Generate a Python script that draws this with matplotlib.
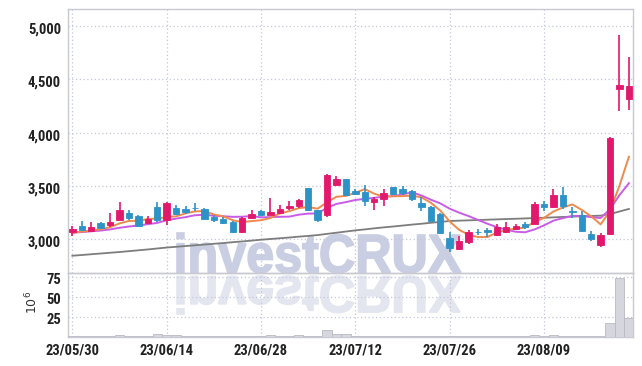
import matplotlib
matplotlib.use("Agg")
import matplotlib.pyplot as plt
import numpy as np
import os
from matplotlib import font_manager
from matplotlib.textpath import TextPath
from matplotlib.font_manager import FontProperties
from matplotlib.patches import PathPatch
from matplotlib.transforms import Affine2D, ScaledTranslation
from matplotlib.ticker import FuncFormatter, FixedLocator

# ---------------- data ----------------
dates = ["23/05/30", "23/05/31", "23/06/01", "23/06/02", "23/06/05", "23/06/07", "23/06/08",
         "23/06/09", "23/06/12", "23/06/13", "23/06/14", "23/06/15", "23/06/16", "23/06/19",
         "23/06/20", "23/06/21", "23/06/22", "23/06/23", "23/06/26", "23/06/27", "23/06/28",
         "23/06/29", "23/06/30", "23/07/03", "23/07/04", "23/07/05", "23/07/06", "23/07/07",
         "23/07/10", "23/07/11", "23/07/12", "23/07/13", "23/07/14", "23/07/17", "23/07/18",
         "23/07/19", "23/07/20", "23/07/21", "23/07/24", "23/07/25", "23/07/26", "23/07/27",
         "23/07/28", "23/07/31", "23/08/01", "23/08/02", "23/08/03", "23/08/04", "23/08/07",
         "23/08/08", "23/08/09", "23/08/10", "23/08/11", "23/08/14", "23/08/16", "23/08/17",
         "23/08/18", "23/08/21", "23/08/22", "23/08/23"]

opens = [3073, 3126, 3079, 3155, 3130, 3183, 3250, 3221, 3152, 3303,
         3177, 3294, 3284, 3297, 3284, 3205, 3193, 3164, 3073, 3196,
         3268, 3231, 3246, 3290, 3310, 3477, 3275, 3228, 3509, 3562,
         3449, 3442, 3348, 3379, 3487, 3468, 3449, 3341, 3306, 3237,
         3009, 2905, 2972, 3073, 3088, 3038, 3070, 3095, 3145, 3145,
         3335, 3303, 3420, 3265, 3231, 3047, 2946, 3053, 4413, 4319]
highs = [3123, 3174, 3164, 3158, 3246, 3351, 3275, 3225, 3215, 3351,
         3350, 3325, 3309, 3341, 3294, 3230, 3205, 3174, 3209, 3275,
         3278, 3389, 3325, 3357, 3379, 3484, 3275, 3610, 3594, 3565,
         3474, 3506, 3395, 3468, 3493, 3500, 3461, 3395, 3310, 3246,
         3073, 3032, 3085, 3098, 3104, 3145, 3161, 3145, 3167, 3351,
         3357, 3468, 3493, 3300, 3262, 3079, 3063, 3955, 4916, 4707]
lows = [3032, 3085, 3073, 3100, 3114, 3180, 3177, 3120, 3145, 3158,
        3133, 3230, 3240, 3262, 3190, 3158, 3148, 3063, 3057, 3190,
        3215, 3224, 3240, 3278, 3294, 3262, 3167, 3205, 3500, 3410,
        3414, 3310, 3278, 3316, 3417, 3420, 3357, 3262, 3170, 3051,
        2883, 2899, 2959, 3041, 3019, 3032, 3057, 3088, 3101, 3139,
        3262, 3291, 3284, 3199, 3073, 2987, 2924, 3043, 4203, 4213]
closes = [3098, 3088, 3117, 3107, 3158, 3275, 3202, 3126, 3193, 3177,
          3344, 3240, 3259, 3290, 3193, 3183, 3155, 3073, 3202, 3240,
          3224, 3259, 3287, 3316, 3373, 3278, 3180, 3600, 3562, 3414,
          3423, 3357, 3382, 3430, 3427, 3430, 3382, 3300, 3174, 3063,
          2921, 2987, 3070, 3066, 3066, 3120, 3120, 3126, 3120, 3335,
          3303, 3420, 3316, 3259, 3082, 3003, 3038, 3950, 4447, 4438]
volumes = [0.6, 0.8, 0.6, 0.9, 1.5, 1.8, 0.8, 0.6, 0.9, 3.0,
           2.2, 2.0, 0.8, 0.7, 0.8, 0.6, 0.5, 0.7, 0.8, 0.6,
           0.7, 1.8, 0.9, 1.2, 2.0, 1.5, 1.0, 8.5, 4.0, 3.0,
           1.5, 1.2, 1.0, 1.0, 0.9, 0.7, 0.7, 0.8, 0.8, 1.0,
           1.0, 0.8, 0.8, 0.5, 0.5, 0.6, 0.5, 0.5, 0.5, 1.8,
           0.8, 1.8, 1.4, 0.8, 1.2, 0.7, 0.9, 17.0, 73.0, 24.0]  # x 10^6
ma5 = [3062, 3072, 3082, 3094, 3114, 3149, 3172, 3174, 3191, 3195,
       3208, 3216, 3243, 3262, 3265, 3233, 3216, 3179, 3161, 3171,
       3179, 3200, 3242, 3265, 3292, 3303, 3287, 3349, 3399, 3407,
       3436, 3471, 3428, 3401, 3404, 3405, 3410, 3394, 3343, 3270,
       3168, 3089, 3043, 3021, 3022, 3062, 3088, 3100, 3110, 3164,
       3201, 3261, 3299, 3327, 3276, 3216, 3140, 3266, 3504, 3775]
ma10 = [3062, 3068, 3075, 3082, 3093, 3108, 3120, 3130, 3142, 3154,
        3179, 3194, 3208, 3226, 3230, 3221, 3216, 3211, 3212, 3218,
        3206, 3208, 3211, 3213, 3231, 3241, 3243, 3296, 3332, 3349,
        3369, 3379, 3389, 3400, 3405, 3421, 3441, 3411, 3372, 3337,
        3287, 3250, 3218, 3182, 3146, 3115, 3089, 3071, 3066, 3093,
        3131, 3175, 3199, 3219, 3220, 3208, 3200, 3283, 3415, 3526]
ma60 = [2846, 2853, 2860, 2867, 2874, 2881, 2889, 2897, 2905, 2914,
        2923, 2930, 2937, 2944, 2951, 2958, 2965, 2973, 2980, 2988,
        2996, 3003, 3010, 3017, 3025, 3032, 3040, 3051, 3062, 3073,
        3084, 3093, 3103, 3112, 3120, 3129, 3138, 3146, 3155, 3163,
        3172, 3175, 3178, 3181, 3184, 3187, 3190, 3193, 3196, 3199,
        3202, 3206, 3210, 3213, 3216, 3219, 3222, 3237, 3261, 3285]
tick_positions = [0, 10, 20, 30, 40, 50]
price_ticks = [3000, 3500, 4000, 4500, 5000]
volume_ticks = [25, 50, 75]

# ---------------- fonts ----------------
def find_narrow_bold():
    prefs = ["LiberationSansNarrow-Bold", "RobotoCondensed-Bold", "RobotoCondensed-Medium",
             "DejaVuSansCondensed-Bold", "LiberationSansNarrow-Regular", "DejaVuSansCondensed",
             "RobotoCondensed-Regular"]
    files = {}
    for f in font_manager.fontManager.ttflist:
        files[os.path.splitext(os.path.basename(f.fname))[0]] = f.fname
    for p in prefs:
        for k, v in files.items():
            if k.replace(" ", "").lower() == p.lower():
                return FontProperties(fname=v), k
    for k, v in files.items():
        kl = k.lower()
        if ("condensed" in kl or "narrow" in kl) and "bold" in kl and "italic" not in kl \
                and "oblique" not in kl and "semi" not in kl and "extra" not in kl:
            return FontProperties(fname=v), k
    return FontProperties(family="Liberation Sans", weight="bold"), ""

tick_fp, tick_name = find_narrow_bold()
if tick_name.lower().startswith("liberationsansnarrow") or "robotocondensed" in tick_name.lower():
    tick_size = 10.5
elif "condensed" in tick_name.lower():
    tick_size = 9
else:
    tick_size = 8.5

UP = "#e2186c"
DOWN = "#2d93c7"
GRID = "#c3c7da"
SPINE = "#c9c9d2"

fig = plt.figure(figsize=(6.42, 3.66), dpi=100)
W, H = 642, 366
ax = fig.add_axes([68 / W, 1 - 272.7 / H, (632.7 - 68) / W, (272.7 - 9.3) / H])
axv = fig.add_axes([68 / W, 1 - 336.7 / H, (632.7 - 68) / W, (336.7 - 272.7) / H], sharex=ax)
for a in (ax, axv):
    a.set_facecolor("none")

x = np.arange(len(dates))
o = np.array(opens, float)
c = np.array(closes, float)
hi = np.array(highs, float)
lo = np.array(lows, float)
up = c >= o
cols = np.where(up, UP, DOWN)

# watermark (behind axes content)
fp = FontProperties(family="Liberation Sans", weight="bold")
tp = TextPath((0, 0), "investCRUX", size=1, prop=fp)
bb = tp.get_extents()
x0p, x1p = 177, 461
top_p, bot_p = 233, 273
sx = (x1p - x0p) / bb.width
sy = (bot_p - top_p) / bb.height
tr_main = Affine2D().translate(-bb.x0, -bb.y0).scale(sx, sy).translate(x0p, H - bot_p)
fig.add_artist(PathPatch(tp, transform=tr_main, facecolor="#c9cee3", edgecolor="#c9cee3",
                         linewidth=1.2, zorder=-5))
r_top, r_bot = 276, 314
sy2 = (r_bot - r_top) / bb.height
tr_ref = Affine2D().translate(-bb.x0, -bb.y0).scale(sx, -sy2).translate(x0p, H - r_top)
fig.add_artist(PathPatch(tp, transform=tr_ref, facecolor="#e4e6ef", edgecolor="#e4e6ef",
                         linewidth=1.2, zorder=-5))

# MA lines
ax.plot(x, ma60, color="#7d7d7d", lw=1.3, zorder=2)
ax.plot(x, ma10, color="#c95ce6", lw=1.4, zorder=2)
ax.plot(x, ma5, color="#ef8a4e", lw=1.4, zorder=2)

# candles
ax.vlines(x, lo, hi, colors=cols, lw=1.2, zorder=3)
body_h = np.where(np.abs(c - o) < 4, 4, np.abs(c - o))
ax.bar(x, body_h, bottom=np.minimum(o, c), width=0.68, color=cols, edgecolor=cols,
       linewidth=0.6, zorder=4)

# volume
axv.bar(x, volumes, width=1.0, color="#d6d7de", edgecolor="#b9bac4", linewidth=0.6, zorder=3)

# axes limits
ax.set_xlim(-0.46, 59.4)
ax.set_ylim(2687, 5157)
axv.set_ylim(0, 80)

# grids & ticks
for a in (ax, axv):
    a.grid(True, color=GRID, linestyle=(0, (1, 2)), linewidth=0.9)
    a.set_axisbelow(True)
    for s in a.spines.values():
        s.set_color(SPINE)
        s.set_linewidth(1.0)
    a.tick_params(length=0, colors="#222222")

ax.yaxis.set_major_locator(FixedLocator(price_ticks))
ax.yaxis.set_major_formatter(FuncFormatter(lambda v, p: f"{v:,.0f}"))
axv.yaxis.set_major_locator(FixedLocator(volume_ticks))
axv.set_yticklabels([str(v) for v in volume_ticks])
axv.xaxis.set_major_locator(FixedLocator(tick_positions))
axv.set_xticklabels([dates[i] for i in tick_positions])
ax.tick_params(labelbottom=False)

ax.tick_params(axis="y", pad=5)
axv.tick_params(axis="y", pad=5)
axv.tick_params(axis="x", pad=5)
shift = ScaledTranslation(0, -1.5 / 72, fig.dpi_scale_trans)
for lab in ax.get_yticklabels() + axv.get_yticklabels():
    lab.set_transform(lab.get_transform() + shift)
for lab in ax.get_yticklabels() + axv.get_yticklabels() + axv.get_xticklabels():
    lab.set_fontproperties(tick_fp)
    lab.set_fontsize(tick_size)
    lab.set_color("#222222")

fig.text(32 / W, 1 - 302 / H, r"$10^6$", rotation=90, ha="center", va="center",
         fontsize=9, color="#333333")

fig.savefig("out.png", dpi=100)
